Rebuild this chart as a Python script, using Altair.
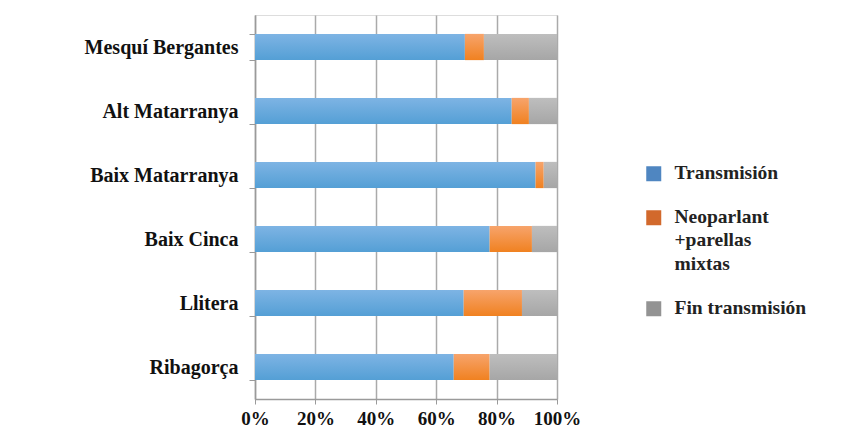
import altair as alt
import pandas as pd

regions = ["Mesquí Bergantes", "Alt Matarranya", "Baix Matarranya", "Baix Cinca", "Llitera", "Ribagorça"]
series = ["Transmisión", "Neoparlant\n+parellas\nmixtas", "Fin transmisión"]
transmision = [69.5, 85.0, 92.9, 77.7, 69.1, 65.8]
neoparlant = [6.3, 5.7, 2.7, 14.0, 19.3, 11.9]
fin = [24.2, 9.3, 4.4, 8.3, 11.6, 22.3]

legend_colors = ["#4F86C1", "#D2692C", "#939393"]
grad_top = ["#7EB4E4", "#F7A46C", "#BEBEBE"]
grad_bot = ["#549FD5", "#F08120", "#A6A6A6"]

rows = []
for i, r in enumerate(regions):
    for j, (s, vals) in enumerate(zip(series, [transmision, neoparlant, fin])):
        rows.append({"region": r, "series": s, "order": j, "value": vals[i] / 100.0})
df = pd.DataFrame(rows)

FONT = "'Liberation Serif', 'Times New Roman', serif"
DY = -10  # shared vertical shift of guide labels (compensated on the axes)

base = alt.Chart(df).transform_stack(
    stack="value", as_=["x0", "x1"], groupby=["region"], sort=[alt.SortField("order")]
)

y_enc = alt.Y(
    "region:N",
    sort=regions,
    scale=alt.Scale(paddingInner=0.59, paddingOuter=0.295),
    axis=alt.Axis(
        title=None, tickBand="extent", grid=False, domainColor="#9a9a9a", domainWidth=1.5,
        tickColor="#9a9a9a", tickSize=6, tickWidth=1, labelPadding=11, labelOffset=-DY,
        labelFont=FONT, labelFontWeight="bold", labelFontSize=20, labelColor="#111111",
    ),
)
x_enc = alt.X(
    "x0:Q",
    scale=alt.Scale(domain=[0, 1], nice=False),
    axis=alt.Axis(
        title=None, format=".0%", values=[0, 0.2, 0.4, 0.6, 0.8, 1.0],
        grid=True, gridColor="#aaaaaa", gridWidth=1.5, labelFlush=False,
        domainColor="#9a9a9a", domainWidth=1.5, tickColor="#9a9a9a", tickSize=5,
        labelPadding=5 - DY, labelFont=FONT, labelFontWeight="bold", labelFontSize=19,
        labelColor="#111111",
    ),
)

layers = []
# invisible layer that carries the legend
layers.append(
    base.mark_bar(opacity=0).encode(
        y=y_enc, x=x_enc, x2="x1:Q",
        color=alt.Color(
            "series:N",
            scale=alt.Scale(domain=series, range=legend_colors),
            legend=alt.Legend(
                title=None, orient="none", legendX=389, legendY=149,
                symbolType="square", symbolSize=225, symbolOpacity=1,
                symbolStrokeWidth=0, labelExpr="split(datum.label, '\\n')",
                labelBaseline="top",
                labelFont=FONT, labelFontWeight="bold", labelFontSize=19.5,
                labelColor="#222222", labelOffset=11, rowPadding=23, labelLimit=250,
            ),
        ),
    )
)
for j, s in enumerate(series):
    layers.append(
        base.mark_bar(
            color=alt.Gradient(
                gradient="linear",
                stops=[alt.GradientStop(color=grad_top[j], offset=0),
                       alt.GradientStop(color=grad_bot[j], offset=1)],
                x1=0, x2=0, y1=0, y2=1,
            )
        ).encode(y=y_enc, x=x_enc, x2="x1:Q").transform_filter(alt.datum.series == s)
    )

chart = alt.layer(*layers).properties(
    width=302, height=384,
    autosize=alt.AutoSizeParams(type="none"),
    padding={"left": 255, "top": 15, "right": 287, "bottom": 47},
    background="white",
).configure_view(stroke=None).configure(
    style={"guide-label": {"lineHeight": 23.5, "dy": DY}}
)

chart.save("out.html", embed_options={"renderer": "svg", "actions": False})
